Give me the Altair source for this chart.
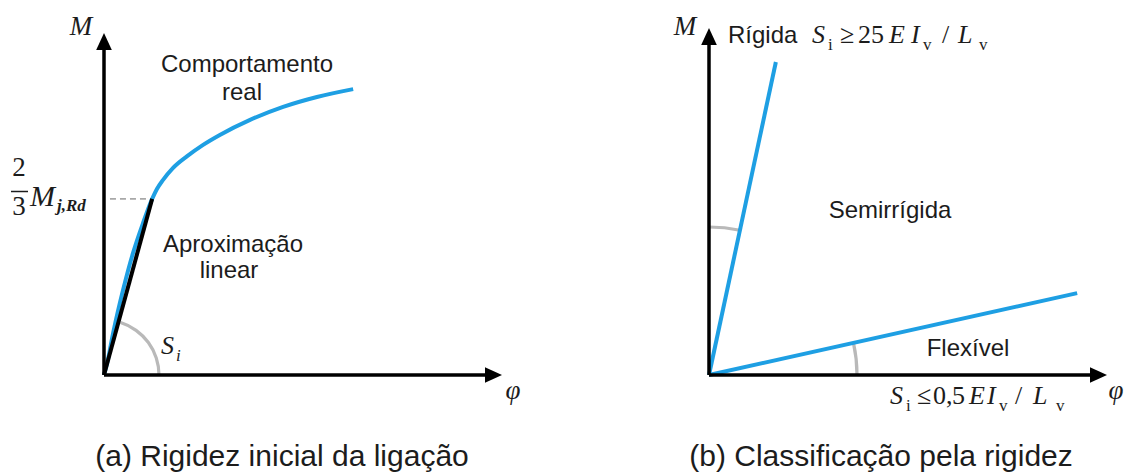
import math
import altair as alt
import pandas as pd

# ---------------------------------------------------------------------------
# Data (both axes normalised so that 100 = length of the drawn axis arrow)
# ---------------------------------------------------------------------------
# (a) real moment-rotation behaviour of the joint
phi_real = [0, 0.8, 2.3, 4.8, 7.3, 9.8, 12.1, 13.3, 14.8, 17.3, 20.9, 24.9, 29.1, 36.7, 45.0, 53.5, 62.6]
m_real = [0, 3.5, 12.3, 24.9, 35.7, 44.4, 51.5, 54.4, 57.0, 60.5, 64.0, 67.3, 70.2, 74.6, 78.4, 81.3, 83.6]
# linear approximation (initial stiffness S_i) up to 2/3 M_j,Rd
phi_sec = [0, 12.1]
m_sec = [0, 51.5]
phi_dash_start = 1.5

# (b) stiffness classification boundaries
phi_rigid = [0, 16.8]
m_rigid = [0, 90.2]
phi_flex = [0, 92.5]
m_flex = [0, 23.6]

BLUE = "#1e9fe3"
INK = "#1c1c1c"
ARC_GREY = "#b9b9b9"
SANS = "Liberation Sans"
SERIF = "Liberation Serif"

# ---------------------------------------------------------------------------
# Panel geometry (pixels, panel-local)
# ---------------------------------------------------------------------------
H = 475
PANEL_A = dict(width=563, ox=104, oy=375, lx=398, ly=342)
PANEL_B = dict(width=564, ox=146, oy=375, lx=398, ly=347)
ARROW = 17  # arrow head length in px


def scales(p):
    sx = alt.Scale(domain=[-p["ox"] / p["lx"] * 100, (p["width"] - p["ox"]) / p["lx"] * 100],
                   nice=False, zero=False)
    sy = alt.Scale(domain=[(p["oy"] - H) / p["ly"] * 100, p["oy"] / p["ly"] * 100],
                   nice=False, zero=False)
    return sx, sy


def enc(p, x2=False):
    sx, sy = scales(p)
    e = dict(x=alt.X("phi:Q", scale=sx, axis=None), y=alt.Y("m:Q", scale=sy, axis=None))
    if x2:
        e["x2"] = alt.X2("phi2:Q")
        e["y2"] = alt.Y2("m2:Q")
    return e


def axes(p):
    """Black axes with filled arrow heads."""
    tip_x = 100 - ARROW / 2 / p["lx"] * 100
    tip_y = 100 - ARROW / 2 / p["ly"] * 100
    lines = pd.DataFrame({"phi": [0, 0], "m": [0, 0], "phi2": [0, tip_x], "m2": [tip_y, 0]})
    rule = alt.Chart(lines).mark_rule(color="black", strokeWidth=3.5).encode(**enc(p, True))
    up = alt.Chart(pd.DataFrame({"phi": [0], "m": [tip_y]})).mark_point(
        shape="M0,-1L0.92,1L-0.92,1Z", filled=True, size=ARROW ** 2, color="black", opacity=1
    ).encode(**enc(p))
    right = alt.Chart(pd.DataFrame({"phi": [tip_x], "m": [0]})).mark_point(
        shape="M1,0L-1,-0.92L-1,0.92Z", filled=True, size=ARROW ** 2, color="black", opacity=1
    ).encode(**enc(p))
    return [rule, up, right]


def line(p, xs, ys, color, width=4, **kw):
    return alt.Chart(pd.DataFrame({"phi": xs, "m": ys})).mark_line(
        color=color, strokeWidth=width, **kw).encode(**enc(p))


def angle(p, phi, m):
    """Clockwise angle from vertical of the ray from the origin to (phi, m)."""
    return math.atan2(phi * p["lx"] / 100, m * p["ly"] / 100)


def arc(p, t1, t2, r):
    return alt.Chart(pd.DataFrame({"phi": [0], "m": [0]})).mark_arc(
        theta=t1, theta2=t2, innerRadius=r - 1.6, outerRadius=r + 1.6, color=ARC_GREY
    ).encode(**enc(p))


def text(s, x, y, size=24, font=SANS, style="normal", align="left", color=INK, weight="normal"):
    return alt.Chart(pd.DataFrame({"t": [s]})).mark_text(
        text=s, font=font, fontSize=size, fontStyle=style, fontWeight=weight,
        align=align, baseline="alphabetic", color=color
    ).encode(x=alt.value(x), y=alt.value(y))


def formula(tokens, x0, base):
    """Math expression made of italic/roman serif tokens with subscripts."""
    out = []
    for s, x, kind in tokens:
        if kind == "it":
            out.append(text(s, x - x0, base, 26, SERIF, "italic"))
        elif kind == "rm":
            out.append(text(s, x - x0, base, 26, SERIF))
        else:  # subscript
            out.append(text(s, x - x0, base + 7, 17, SERIF))
    return out


# ---------------------------------------------------------------------------
# (a) Rigidez inicial da ligação
# ---------------------------------------------------------------------------
pa = PANEL_A
dash = pd.DataFrame({"phi": [phi_dash_start], "m": [m_sec[1]], "phi2": [phi_sec[1]], "m2": [m_sec[1]]})
layers_a = [
    alt.Chart(dash).mark_rule(color="#a8a8a8", strokeWidth=1.6, strokeDash=[6, 4]).encode(**enc(pa, True)),
    arc(pa, angle(pa, phi_sec[1], m_sec[1]) + 0.04, math.pi / 2, 55),
    line(pa, phi_real, m_real, BLUE, 4, interpolate="monotone"),
    line(pa, phi_sec, m_sec, "black", 4),
    *axes(pa),
    text("M", 81, 35, 27, SERIF, "italic", "center"),
    text("φ", 513, 399, 27, SERIF, "italic", "center"),
    text("Comportamento", 247, 72, 24, align="center"),
    text("real", 242, 100, 24, align="center"),
    text("Aproximação", 233, 252, 24, align="center"),
    text("linear", 229, 278, 24, align="center"),
    text("S", 161, 354, 26, SERIF, "italic"),
    text("i", 176, 361, 17, SERIF, "italic"),
    # 2/3 M_j,Rd
    text("2", 19, 176, 27, SERIF, align="center"),
    alt.Chart(pd.DataFrame({"a": [0]})).mark_rule(color=INK, strokeWidth=1.5).encode(
        x=alt.value(11), x2=alt.value(28), y=alt.value(191.5)),
    text("3", 19, 215, 27, SERIF, align="center"),
    text("M", 30, 206, 30, SERIF, "italic"),
    text("j,Rd", 57, 211, 17, SERIF, "italic", weight="bold"),
    text("(a) Rigidez inicial da ligação", 282, 466, 30, align="center"),
]
panel_a = alt.layer(*layers_a).properties(width=pa["width"], height=H)

# ---------------------------------------------------------------------------
# (b) Classificação pela rigidez
# ---------------------------------------------------------------------------
pb = PANEL_B
X0 = 563  # left edge of panel (b)
top_tokens = [("S", 812, "it"), ("i", 828, "sub"), ("≥", 840, "rm"), ("25", 858, "rm"),
              ("E", 889, "it"), ("I", 911, "it"), ("v", 923, "sub"), ("/", 942, "rm"),
              ("L", 958, "it"), ("v", 979, "sub")]
bottom_tokens = [("S", 890, "it"), ("i", 906, "sub"), ("≤", 917, "rm"), ("0", 933, "rm"),
                 (",", 946, "rm"), ("5", 952, "rm"),
                 ("E", 969, "it"), ("I", 987, "it"), ("v", 999, "sub"), ("/", 1015, "rm"),
                 ("L", 1033, "it"), ("v", 1056, "sub")]
layers_b = [
    arc(pb, 0, angle(pb, phi_rigid[1], m_rigid[1]), 148),
    arc(pb, angle(pb, phi_flex[1], m_flex[1]), math.pi / 2, 148),
    line(pb, phi_rigid, m_rigid, BLUE, 4),
    line(pb, phi_flex, m_flex, BLUE, 4),
    *axes(pb),
    text("M", 685 - X0, 35, 27, SERIF, "italic", "center"),
    text("φ", 1116 - X0, 399, 27, SERIF, "italic", "center"),
    text("Rígida", 728 - X0, 43, 24),
    text("Semirrígida", 890 - X0, 218, 24, align="center"),
    text("Flexível", 968 - X0, 356, 24, align="center"),
    *formula(top_tokens, X0, 43),
    *formula(bottom_tokens, X0, 404),
    text("(b) Classificação pela rigidez", 881 - X0, 466, 30, align="center"),
]
panel_b = alt.layer(*layers_b).properties(width=pb["width"], height=H)

chart = (
    alt.hconcat(panel_a, panel_b, spacing=0, bounds="flush")
    .properties(padding=0, background="white")
    .configure_view(stroke=None)
)
chart.save("out.html", embed_options={"renderer": "svg", "actions": False})
